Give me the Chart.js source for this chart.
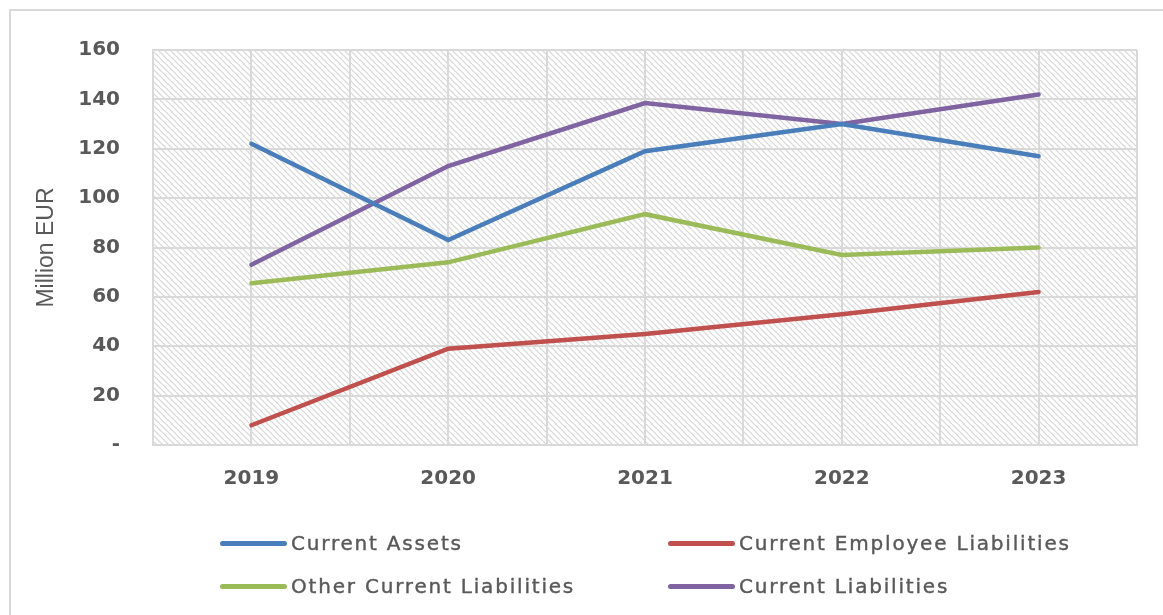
<!DOCTYPE html>
<html>
<head>
<meta charset="utf-8">
<script src="https://cdn.jsdelivr.net/npm/chart.js@4"></script>
<style>
    body { margin: 0; background: #fff; }
    #wrap { position: relative; width: 1163px; height: 615px; overflow: hidden; }
    #frame { position: absolute; left: 9px; top: 9px; width: 1200px; height: 700px;
             border-left: 2px solid #d9d9d9; border-top: 2px solid #d9d9d9; }
    #lineChart { position: absolute; left: 0; top: 0; }
    .legend-item { position: absolute; font-family: "DejaVu Sans"; font-size: 20px; color: #595959;
                   letter-spacing: 1.8px; -webkit-text-stroke: 0.4px #595959;
                   display: flex; align-items: center; height: 30px; white-space: nowrap; }
    .legend-item span.swatch { display: inline-block; width: 67px; height: 5px; border-radius: 3px; margin-right: 4px; }
</style>
</head>
<body>
<div id="wrap">
    <div id="frame"></div>
    <canvas id="lineChart" width="1163" height="615"></canvas>
    <div id="legend"></div>
</div>
<script>
const years = ['2019', '2020', '2021', '2022', '2023'];
const currentAssets = [122, 83, 119, 130, 117];
const employeeLiabilities = [8, 39, 45, 53, 62];
const otherLiabilities = [65.5, 74, 93.5, 77, 80];
const currentLiabilities = [73, 113, 138.5, 130, 142];
const yTicks = [0, 20, 40, 60, 80, 100, 120, 140, 160];

function points(values) {
    return values.map((v, i) => ({ x: i, y: v }));
}

// diagonal hatch behind the plot
const hatchPlugin = {
    id: 'hatch',
    beforeDraw(chart) {
        const { ctx, chartArea } = chart;
        const tile = document.createElement('canvas');
        tile.width = 6; tile.height = 6;
        const t = tile.getContext('2d');
        t.strokeStyle = '#d6d6d6';
        t.lineWidth = 1.2;
        t.beginPath();
        t.moveTo(-1, -1); t.lineTo(7, 7);
        t.moveTo(-1, 5); t.lineTo(1, 7);
        t.moveTo(5, -1); t.lineTo(7, 1);
        t.stroke();
        ctx.save();
        ctx.fillStyle = ctx.createPattern(tile, 'repeat');
        ctx.fillRect(chartArea.left, chartArea.top, chartArea.width, chartArea.height);
        ctx.restore();
    }
};

const series = [
    { label: 'Current Assets', data: currentAssets, color: '#4a7ebb' },
    { label: 'Current Employee Liabilities', data: employeeLiabilities, color: '#c0504d' },
    { label: 'Other Current Liabilities', data: otherLiabilities, color: '#9bbb59' },
    { label: 'Current Liabilities', data: currentLiabilities, color: '#8064a2' },
];

const chart = new Chart(document.getElementById('lineChart'), {
    type: 'line',
    data: {
        datasets: series.map(s => ({
            label: s.label,
            data: points(s.data),
            borderColor: s.color,
            backgroundColor: s.color,
            borderWidth: 4.5,
            borderCapStyle: 'round',
            pointRadius: 0,
            tension: 0,
        }))
    },
    plugins: [hatchPlugin],
    options: {
        responsive: false,
        animation: false,
        layout: { padding: { left: 33, top: 50, right: 26, bottom: 0 } },
        plugins: { legend: { display: false }, tooltip: { enabled: false } },
        scales: {
            x: {
                type: 'linear',
                min: -0.5, max: 4.5,
                afterBuildTicks: axis => {
                    axis.ticks = [];
                    for (let v = -0.5; v <= 4.5; v += 0.5) axis.ticks.push({ value: v });
                },
                afterFit: axis => { axis.height = 615 - 445; },
                grid: { color: '#d9d9d9', lineWidth: 2, drawTicks: false },
                border: { color: '#d9d9d9', width: 2 },
                ticks: {
                    autoSkip: false, maxRotation: 0, padding: 22,
                    color: '#595959',
                    font: { family: 'DejaVu Sans', size: 20, weight: 'bold' },
                    callback: v => Number.isInteger(v) ? years[v] : ''
                }
            },
            y: {
                min: 0, max: 160,
                afterBuildTicks: axis => { axis.ticks = yTicks.map(v => ({ value: v })); },
                afterFit: axis => { axis.width = 153 - 33; },
                grid: { color: '#d9d9d9', lineWidth: 2, drawTicks: false },
                border: { color: '#d9d9d9', width: 2 },
                title: {
                    display: true, text: 'Million EUR', color: '#595959',
                    padding: 0,
                    font: { family: 'Liberation Sans', size: 23 }
                },
                ticks: {
                    padding: 33, color: '#595959',
                    font: { family: 'DejaVu Sans', size: 20, weight: 'bold' },
                    callback: v => v === 0 ? '-' : v
                }
            }
        }
    }
});

// legend in two columns, as in the original
const legendPos = [[220, 528], [668, 528], [220, 571], [668, 571]];
const legend = document.getElementById('legend');
chart.data.datasets.forEach((ds, i) => {
    const item = document.createElement('div');
    item.className = 'legend-item';
    item.style.left = legendPos[i][0] + 'px';
    item.style.top = legendPos[i][1] + 'px';
    item.innerHTML = `<span class="swatch" style="background:${ds.borderColor}"></span>${ds.label}`;
    legend.appendChild(item);
});
</script>
</body>
</html>
